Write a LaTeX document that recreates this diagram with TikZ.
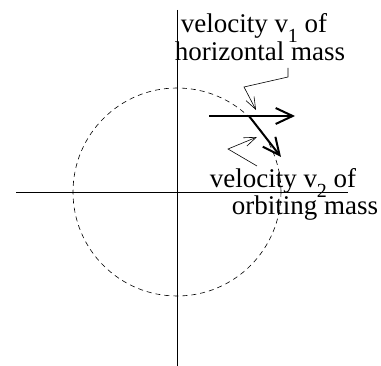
\documentclass[tikz,border=0pt]{standalone}
\usepackage{fontspec}
\setmainfont{Liberation Serif}
\usetikzlibrary{arrows.meta,positioning}

\newcommand{\vsub}[1]{\raisebox{-10pt}{\fontsize{20}{20}\selectfont #1}}

\begin{document}
\begin{tikzpicture}[x=1pt, y=-1pt,
    axis/.style={draw=black, line width=0.8pt},
    orbit/.style={draw=black, line width=0.6pt, dash pattern=on 5pt off 4pt},
    velocity/.style={line width=2pt, -{Straight Barb[length=17pt, width=16pt, line width=2pt]}},
    pointer/.style={line width=0.6pt, -{Straight Barb[length=12pt, width=9pt, line width=0.6pt]}},
    label/.style={anchor=base, inner sep=0pt, font=\fontsize{27}{30}\selectfont}
]
\useasboundingbox (0,0) rectangle (381,366);

% Axes and orbit
\coordinate (centre) at (177,192);
\draw[axis] (177,10) -- (177,366);
\draw[axis] (16,192) -- (348,192);
\draw[orbit] (centre) circle[radius=104];

% Velocities
\coordinate (hstart) at (209,116);
\coordinate (htip) at (295,116);
\coordinate (mass) at (249,116);
\coordinate (otip) at (281,157);
\draw[velocity] (hstart) -- (htip);
\draw[velocity] (mass) -- (otip);

% Labels
\node[label] (v1top) at (254,33) {velocity v\vsub{1} of};
\node[label] (v1bot) at (260,61) {horizontal mass};
\node[label] (v2top) at (283,188) {velocity v\vsub{2} of};
\node[label] (v2bot) at (305,215) {orbiting mass};

% Pointers
\coordinate (p1) at (288,68);
\coordinate (p1tip) at (256,110);
\coordinate (p2) at (257,166);
\coordinate (p2tip) at (257,137);
\draw[pointer] (p1) -- (288,77) -- (244,87) -- (p1tip);
\draw[pointer] (p2) -- (228,149) -- (p2tip);

\end{tikzpicture}
\end{document}
